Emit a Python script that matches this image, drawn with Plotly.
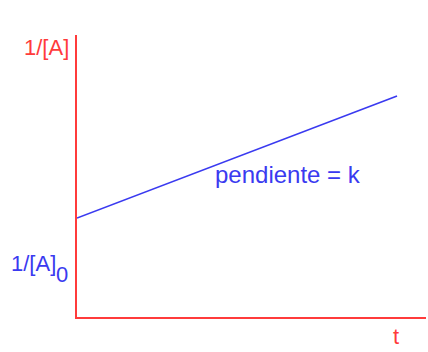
import plotly.graph_objects as go

# data
t = [0.0, 0.917]
inv_A = [0.351, 0.784]
x_label = "t"
y_label = "1/[A]"
y0_label = "1/[A]"
y0_sub = "0"
slope_label = "pendiente = k"

RED = "#ff3b3b"
BLUE = "#3a3af0"
FONT = "Liberation Sans, Arial, sans-serif"

fig = go.Figure()
fig.add_trace(go.Scatter(x=t, y=inv_A, mode="lines",
                         line=dict(color=BLUE, width=1.6),
                         hoverinfo="skip", showlegend=False))

fig.update_layout(
    width=428, height=352,
    margin=dict(l=77, r=2, t=35, b=35),
    paper_bgcolor="white", plot_bgcolor="white",
    showlegend=False,
    xaxis=dict(range=[0, 1], showgrid=False, zeroline=False, showticklabels=False,
               ticks="", showline=True, linecolor=RED, linewidth=2, fixedrange=True),
    yaxis=dict(range=[0, 1], showgrid=False, zeroline=False, showticklabels=False,
               ticks="", showline=True, linecolor=RED, linewidth=2, fixedrange=True),
    font=dict(family=FONT),
)

fig.add_annotation(x=-0.017, y=0.957, xref="paper", yref="paper", text=y_label, showarrow=False,
                   xanchor="right", yanchor="middle", font=dict(color=RED, size=22, family=FONT))
fig.add_annotation(x=-0.054, y=0.19, xref="paper", yref="paper", text=y0_label, showarrow=False,
                   xanchor="right", yanchor="middle", font=dict(color=BLUE, size=22, family=FONT))
fig.add_annotation(x=-0.021, y=0.152, xref="paper", yref="paper", text=y0_sub, showarrow=False,
                   xanchor="right", yanchor="middle", font=dict(color=BLUE, size=22, family=FONT))
fig.add_annotation(x=0.606, y=0.504, xref="x", yref="y", text=slope_label, showarrow=False,
                   xanchor="center", yanchor="middle", font=dict(color=BLUE, size=24, family=FONT))
fig.add_annotation(x=0.914, y=-0.07, xref="paper", yref="paper", text=x_label, showarrow=False,
                   xanchor="center", yanchor="middle", font=dict(color=RED, size=22, family=FONT))

fig.write_html("out.html", config={"displayModeBar": False},
               post_script="document.body.style.margin='0';")
